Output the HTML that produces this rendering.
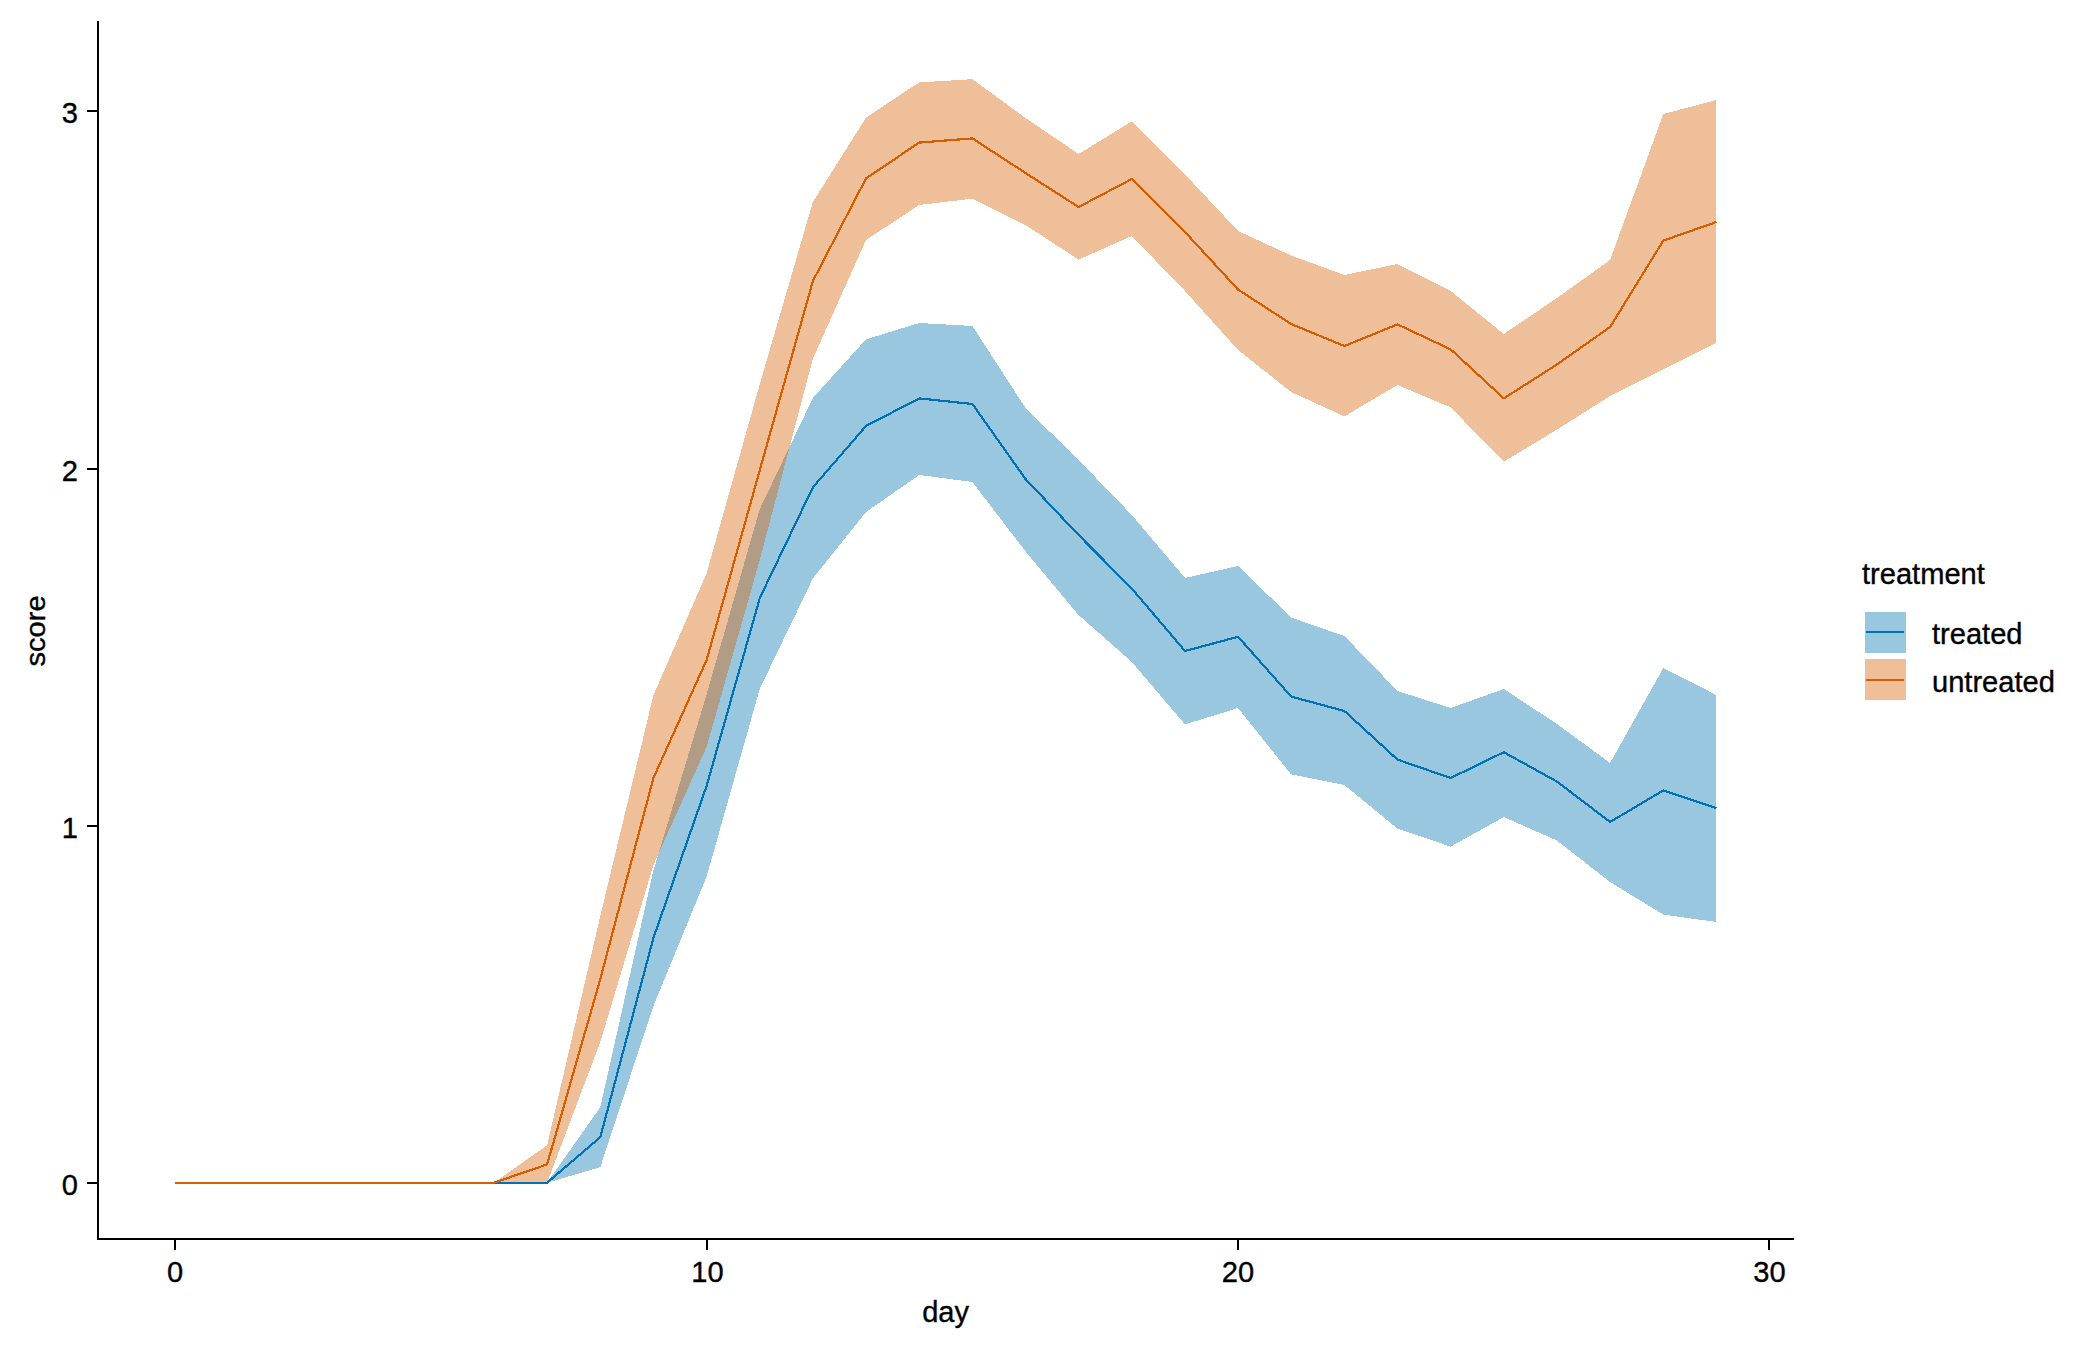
<!DOCTYPE html>
<html><head><meta charset="utf-8"><title>score by day</title>
<style>
html,body{margin:0;padding:0;background:#fff;}
svg{display:block;}
text{font-family:"Liberation Sans",Arial,sans-serif;font-size:29.1px;fill:#000;stroke:#000;stroke-width:0.35px;}
</style></head><body>
<svg width="2100" height="1350" viewBox="0 0 2100 1350">
<rect width="2100" height="1350" fill="#fff"/>
<g shape-rendering="crispEdges">
<polygon points="175.1,1182.7 228.2,1182.7 281.4,1182.7 334.5,1182.7 387.7,1182.7 440.9,1182.7 494.0,1182.7 547.1,1182.7 600.3,1107.3 653.4,870.5 706.6,694.5 759.8,509.0 812.9,398.0 866.0,339.4 919.2,323.0 972.4,326.0 1025.5,408.0 1078.6,460.0 1131.8,515.0 1185.0,578.0 1238.1,566.0 1291.2,617.6 1344.4,636.0 1397.5,691.0 1450.7,708.0 1503.8,689.0 1557.0,724.0 1610.1,763.0 1663.3,668.0 1716.4,695.0 1716.4,922.0 1663.3,914.6 1610.1,882.0 1557.0,840.6 1503.8,817.0 1450.7,846.6 1397.5,828.6 1344.4,785.0 1291.2,774.4 1238.1,708.0 1185.0,724.4 1131.8,662.0 1078.6,615.0 1025.5,551.4 972.4,482.0 919.2,475.0 866.0,512.0 812.9,578.5 759.8,688.7 706.6,876.7 653.4,1006.0 600.3,1167.2 547.1,1182.7 494.0,1182.7 440.9,1182.7 387.7,1182.7 334.5,1182.7 281.4,1182.7 228.2,1182.7 175.1,1182.7" fill="#0072B2" fill-opacity="0.4"/>
<polygon points="175.1,1182.7 228.2,1182.7 281.4,1182.7 334.5,1182.7 387.7,1182.7 440.9,1182.7 494.0,1182.7 547.1,1145.3 600.3,916.0 653.4,695.3 706.6,573.3 759.8,384.0 812.9,202.0 866.0,117.6 919.2,82.4 972.4,79.2 1025.5,118.0 1078.6,154.0 1131.8,121.4 1185.0,174.5 1238.1,231.0 1291.2,255.6 1344.4,275.0 1397.5,264.0 1450.7,291.0 1503.8,334.0 1557.0,298.0 1610.1,260.0 1663.3,114.0 1716.4,100.0 1716.4,342.6 1663.3,369.4 1610.1,396.0 1557.0,429.6 1503.8,461.6 1450.7,407.4 1397.5,385.0 1344.4,416.4 1291.2,392.0 1238.1,350.0 1185.0,291.0 1131.8,236.0 1078.6,259.6 1025.5,225.0 972.4,198.6 919.2,205.0 866.0,240.0 812.9,358.7 759.8,559.9 706.6,747.0 653.4,865.0 600.3,1042.0 547.1,1182.7 494.0,1182.7 440.9,1182.7 387.7,1182.7 334.5,1182.7 281.4,1182.7 228.2,1182.7 175.1,1182.7" fill="#D55E00" fill-opacity="0.4"/>
<polyline points="175.1,1182.7 228.2,1182.7 281.4,1182.7 334.5,1182.7 387.7,1182.7 440.9,1182.7 494.0,1182.7 547.1,1182.7 600.3,1137.2 653.4,938.0 706.6,786.0 759.8,598.0 812.9,487.3 866.0,426.0 919.2,398.4 972.4,404.0 1025.5,479.0 1078.6,535.0 1131.8,588.5 1185.0,651.0 1238.1,636.8 1291.2,696.6 1344.4,711.0 1397.5,759.6 1450.7,778.0 1503.8,752.2 1557.0,781.6 1610.1,822.0 1663.3,790.4 1716.4,808.0" fill="none" stroke="#0072B2" stroke-width="2.2" stroke-linejoin="round"/>
<polyline points="175.1,1182.7 228.2,1182.7 281.4,1182.7 334.5,1182.7 387.7,1182.7 440.9,1182.7 494.0,1182.7 547.1,1164.4 600.3,979.0 653.4,778.0 706.6,660.0 759.8,470.0 812.9,281.0 866.0,178.4 919.2,142.6 972.4,138.4 1025.5,173.0 1078.6,207.0 1131.8,179.0 1185.0,232.0 1238.1,289.6 1291.2,324.0 1344.4,346.0 1397.5,324.4 1450.7,349.4 1503.8,398.4 1557.0,364.4 1610.1,327.0 1663.3,240.6 1716.4,222.0" fill="none" stroke="#D55E00" stroke-width="2.2" stroke-linejoin="round"/>
</g>
<g fill="#000" shape-rendering="crispEdges">
<rect x="97" y="21" width="2" height="1219"/>
<rect x="97" y="1238" width="1697" height="2"/>
<rect x="87" y="1182" width="10" height="2"/>
<rect x="87" y="825" width="10" height="2"/>
<rect x="87" y="468" width="10" height="2"/>
<rect x="87" y="110" width="10" height="2"/>
<rect x="174" y="1240" width="2" height="10"/>
<rect x="706" y="1240" width="2" height="10"/>
<rect x="1237" y="1240" width="2" height="10"/>
<rect x="1768" y="1240" width="2" height="10"/>
</g>
<text transform="translate(78,1195) scale(1,1.045)" text-anchor="end">0</text>
<text transform="translate(78,838) scale(1,1.045)" text-anchor="end">1</text>
<text transform="translate(78,481) scale(1,1.045)" text-anchor="end">2</text>
<text transform="translate(78,123) scale(1,1.045)" text-anchor="end">3</text>
<text transform="translate(175,1282) scale(1,1.045)" text-anchor="middle">0</text>
<text transform="translate(707.5,1282) scale(1,1.045)" text-anchor="middle">10</text>
<text transform="translate(1238,1282) scale(1,1.045)" text-anchor="middle">20</text>
<text transform="translate(1769.5,1282) scale(1,1.045)" text-anchor="middle">30</text>
<text transform="translate(945.6,1322) scale(1,1.04)" text-anchor="middle">day</text>
<text transform="translate(45.4,631) rotate(-90) scale(1,0.95)" text-anchor="middle">score</text>
<text transform="translate(1862,583.7) scale(1,1.04)">treatment</text>
<rect x="1865" y="612" width="41" height="41" fill="#0072B2" fill-opacity="0.4"/>
<rect x="1866" y="631" width="38" height="2" fill="#0072B2"/>
<rect x="1865" y="659" width="41" height="41" fill="#D55E00" fill-opacity="0.4"/>
<rect x="1866" y="679" width="38" height="2" fill="#D55E00"/>
<text transform="translate(1932,643.7) scale(1,1.04)">treated</text>
<text transform="translate(1932,691.7) scale(1,1.04)">untreated</text>
</svg>
</body></html>
